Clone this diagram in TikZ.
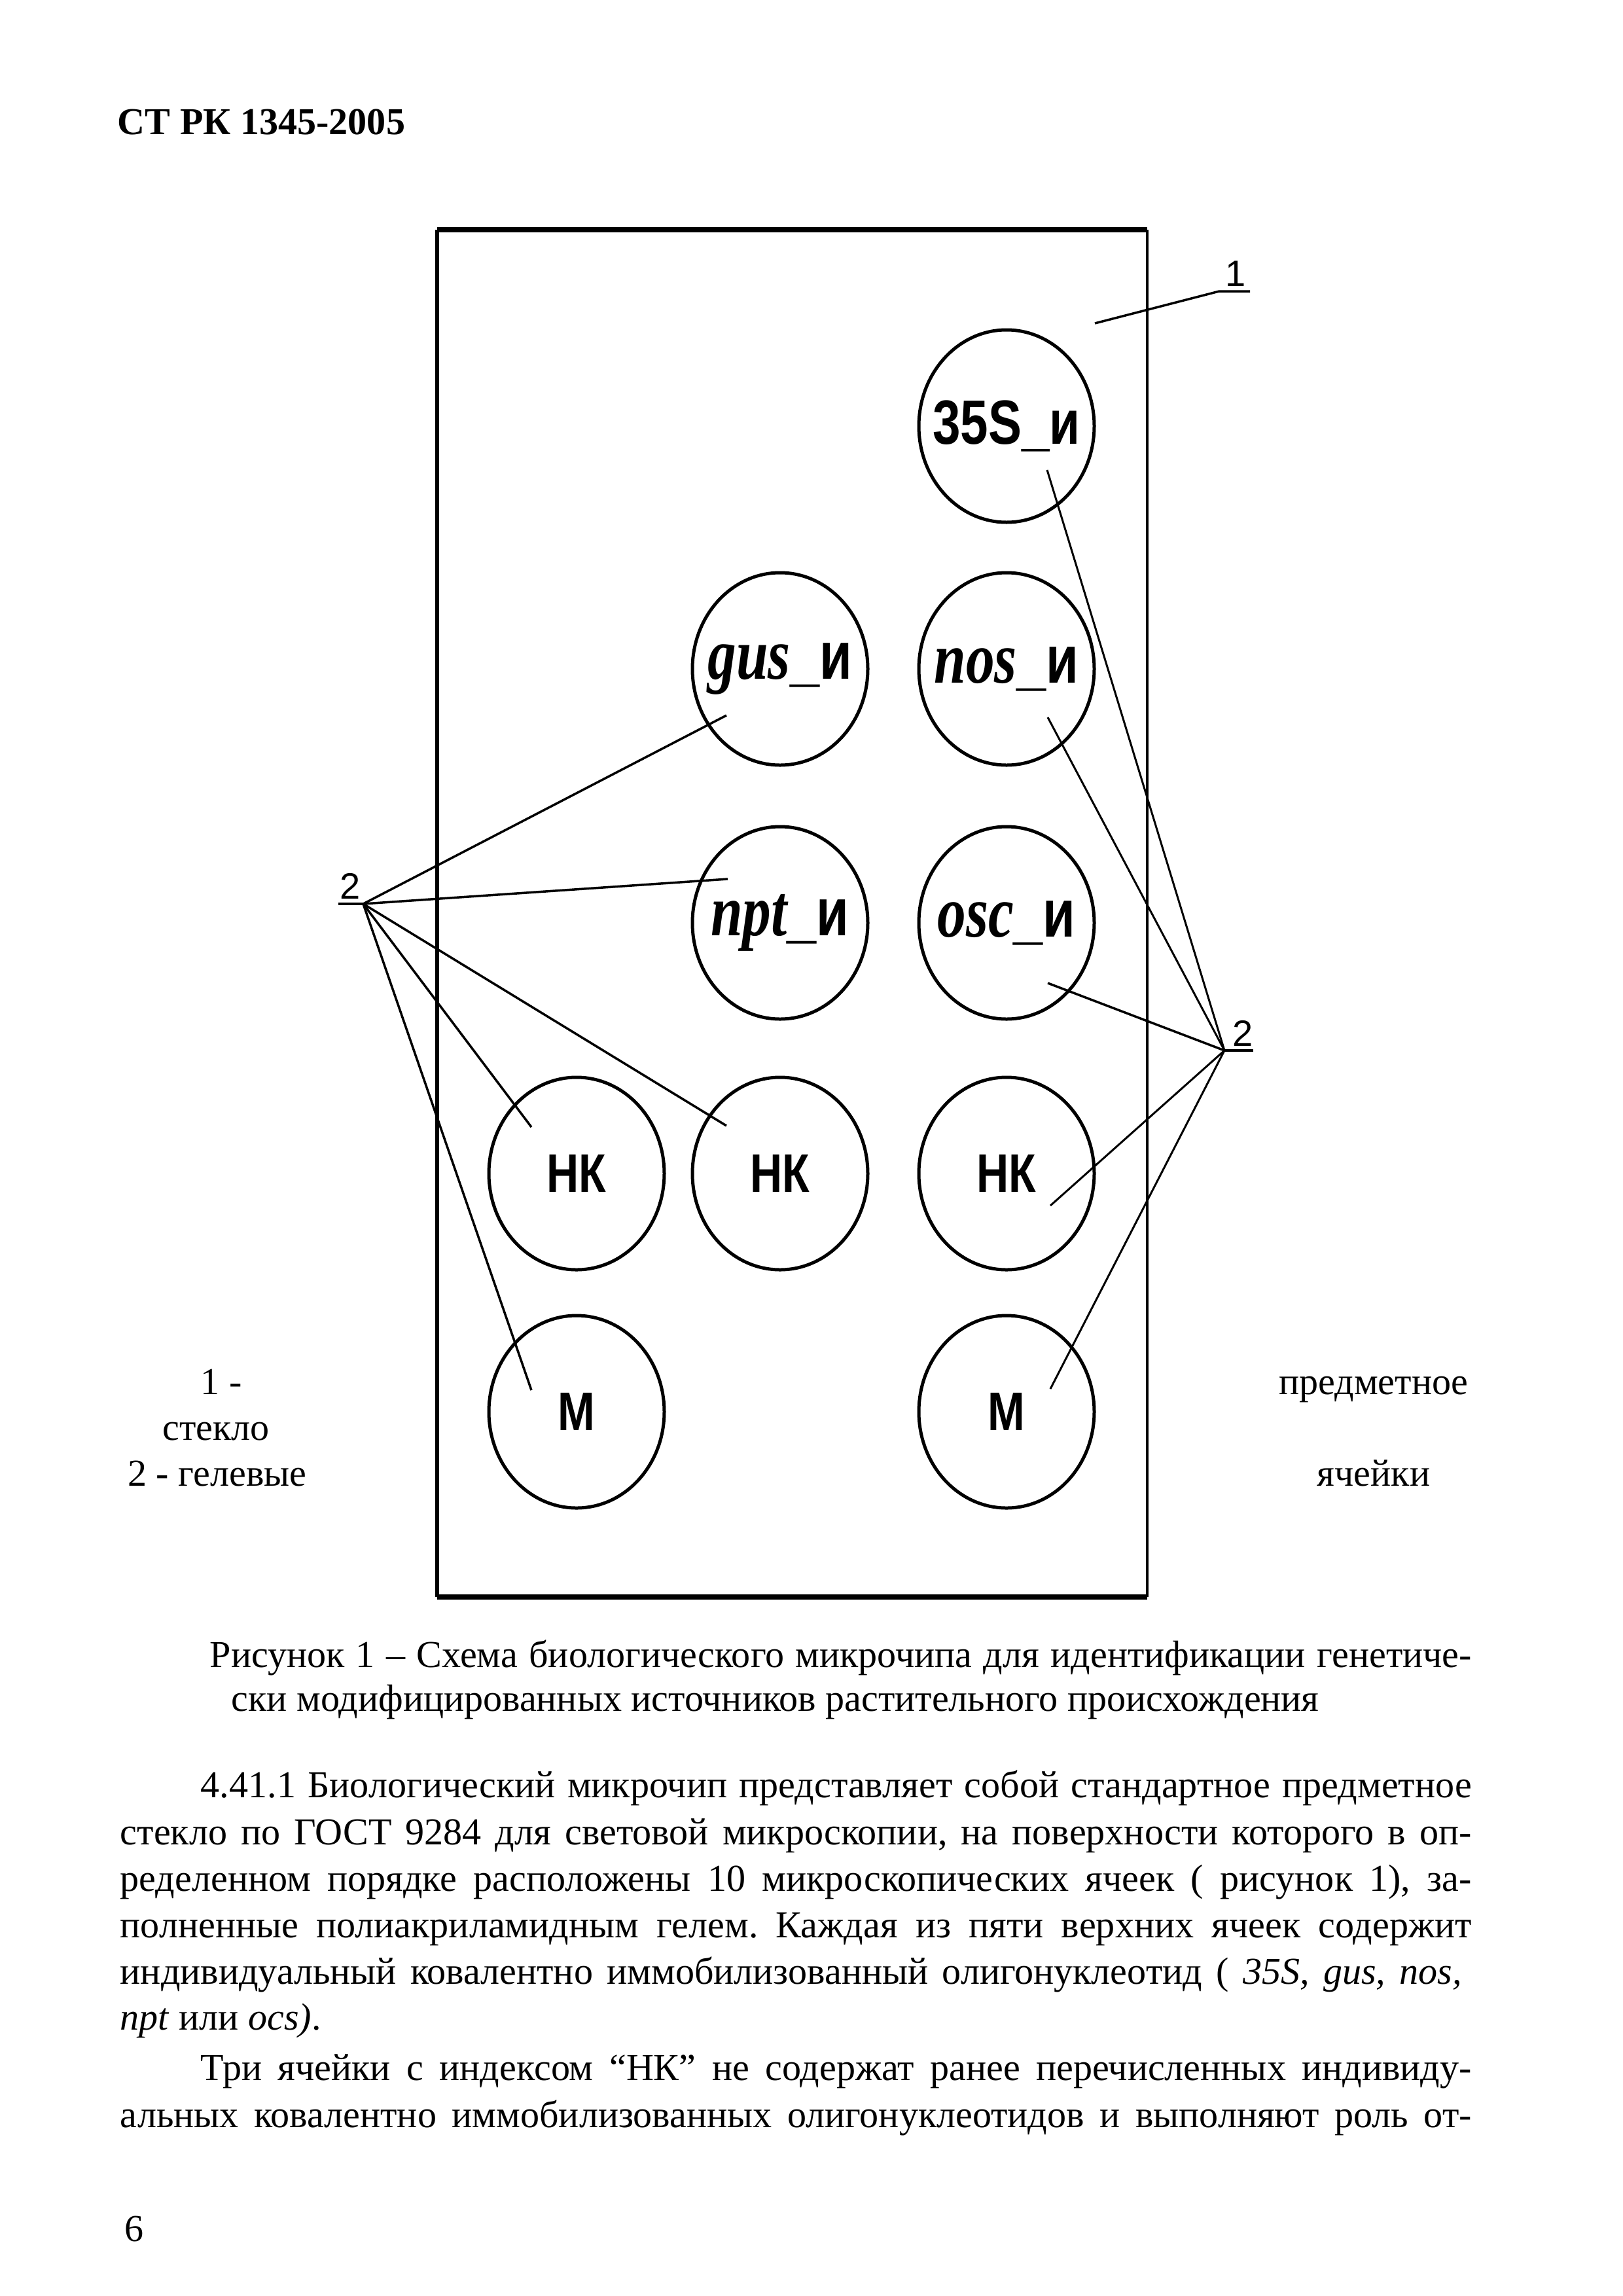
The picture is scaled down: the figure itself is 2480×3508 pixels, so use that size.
\documentclass[tikz,border=0pt]{standalone}
\usepackage{fontspec}
\setmainfont{Liberation Serif}
\newfontfamily\arialf{Liberation Sans}
\usepackage{graphicx}
\usetikzlibrary{shapes.geometric}
\frenchspacing
\newlength{\pxl}
\setlength{\pxl}{0.084667mm}
\newcommand{\sanslab}[1]{\makebox[0pt][c]{\scalebox{0.8}[1]{\arialf\bfseries\fontsize{23pt}{23pt}\selectfont #1}}}
\newcommand{\genelab}[1]{\makebox[0pt][c]{\scalebox{0.78}[1]{\bfseries\itshape\fontsize{27pt}{27pt}\selectfont #1{\arialf\upshape\fontsize{25pt}{25pt}\selectfont\_и}}}}
\newcommand{\ctrllab}[1]{\makebox[0pt][c]{\scalebox{0.82}[1]{\arialf\bfseries\fontsize{20pt}{20pt}\selectfont #1}}}
\begin{document}
\begin{tikzpicture}[x=0.084667mm, y=-0.084667mm,
  cellnode/.style={ellipse, draw, line width=5\pxl, minimum width=268\pxl, minimum height=294\pxl, inner sep=0pt},
  leadline/.style={line width=3.5\pxl},
  leadthin/.style={line width=3\pxl},
  bodytext/.style={inner sep=0pt, anchor=base west, font=\fontsize{14pt}{17pt}\selectfont},
  ctrtext/.style={inner sep=0pt, anchor=base, font=\fontsize{14pt}{17pt}\selectfont},
  numlabel/.style={inner sep=0pt, anchor=base, font=\arialf\fontsize{13.5pt}{14pt}\selectfont},
]
\useasboundingbox (0,0) rectangle (2480,3508);
\fill[white] (0,0) rectangle (2480,3508);

% header
\node[bodytext] (hdr) at (179,205) {\bfseries СТ РК 1345-2005};

% slide
\coordinate (sTL) at (668,351);
\coordinate (sTR) at (1753,351);
\coordinate (sBL) at (668,2440);
\coordinate (sBR) at (1753,2440);
\draw[line width=8\pxl] (sTL) -- (sTR);
\draw[line width=8\pxl] (sBL) -- (sBR);
\draw[line width=6\pxl] (sTL) -- (sBL);
\draw[line width=4\pxl] (sTR) -- (sBR);

% cells
\node[cellnode] (c35) at (1538,651) {\sanslab{35S\_и}};
\node[cellnode] (cgus) at (1192,1022) {\genelab{gus}};
\node[cellnode] (cnos) at (1538,1022) {\genelab{nos}};
\node[cellnode] (cnpt) at (1192,1410) {\genelab{npt}};
\node[cellnode] (cosc) at (1538,1410) {\genelab{osc}};
\node[cellnode] (nk1) at (881,1793) {\ctrllab{НК}};
\node[cellnode] (nk2) at (1192,1793) {\ctrllab{НК}};
\node[cellnode] (nk3) at (1538,1793) {\ctrllab{НК}};
\node[cellnode] (m1) at (881,2157) {\ctrllab{М}};
\node[cellnode] (m2) at (1538,2157) {\ctrllab{М}};

% label 1
\node[numlabel] (lab1) at (1888,437) {1};
\coordinate (u1a) at (1910,445);
\coordinate (u1b) at (1863,445);
\coordinate (e1) at (1673,494);
\draw[leadline] (u1a) -- (u1b) -- (e1);

% left label 2
\node[numlabel] (lab2L) at (535,1373) {2};
\coordinate (u2L) at (517,1381);
\coordinate (p2L) at (555,1381);
\coordinate (egus) at (1110,1093);
\coordinate (enpt) at (1112,1343);
\coordinate (enk1) at (812,1722);
\coordinate (enk2) at (1110,1720);
\coordinate (em1) at (812,2124);
\draw[leadline] (u2L) -- (p2L);
\draw[leadline] (p2L) -- (egus);
\draw[leadline] (p2L) -- (enpt);
\draw[leadline] (p2L) -- (enk1);
\draw[leadline] (p2L) -- (enk2);
\draw[leadline] (p2L) -- (em1);

% right label 2
\node[numlabel] (lab2R) at (1899,1598) {2};
\coordinate (p2R) at (1871,1605);
\coordinate (u2R) at (1915,1605);
\coordinate (e35) at (1600,718);
\coordinate (enos) at (1601,1096);
\coordinate (eosc) at (1601,1502);
\coordinate (enk3) at (1605,1842);
\coordinate (em2) at (1605,2122);
\draw[leadline] (u2R) -- (p2R);
\draw[leadthin] (p2R) -- (e35);
\draw[leadthin] (p2R) -- (enos);
\draw[leadline] (p2R) -- (eosc);
\draw[leadthin] (p2R) -- (enk3);
\draw[leadthin] (p2R) -- (em2);

% legend
\node[ctrtext] (lg1) at (338,2130) {1 -};
\node[ctrtext] (lg2) at (330,2200) {стекло};
\node[ctrtext] (lg3) at (332,2270) {2 - гелевые};
\node[ctrtext] (lg4) at (2099,2130) {предметное};
\node[ctrtext] (lg5) at (2099,2270) {ячейки};

% caption
\node[bodytext] (cap1) at (320,2547) {\makebox[1928\pxl][s]{Рисунок 1 – Схема биологического микрочипа для идентификации генетиче-}};
\node[bodytext] (cap2) at (353,2614) {ски модифицированных источников растительного происхождения};

% body text
\node[bodytext] (b1) at (306,2746) {\makebox[1942\pxl][s]{4.41.1 Биологический микрочип представляет собой стандартное предметное}};
\node[bodytext] (b2) at (183,2818) {\makebox[2065\pxl][s]{стекло по ГОСТ 9284 для световой микроскопии, на поверхности которого в оп-}};
\node[bodytext] (b3) at (183,2889) {\makebox[2065\pxl][s]{ределенном порядке расположены 10 микроскопических ячеек ( рисунок 1), за-}};
\node[bodytext] (b4) at (183,2960) {\makebox[2065\pxl][s]{полненные полиакриламидным гелем. Каждая из пяти верхних ячеек содержит}};
\node[bodytext] (b5) at (183,3031) {\makebox[2050\pxl][s]{индивидуальный ковалентно иммобилизованный олигонуклеотид ( \textit{35S, gus, nos,}}};
\node[bodytext] (b6) at (183,3101) {\textit{npt} или \textit{ocs)}.};
\node[bodytext] (b7) at (306,3178) {\makebox[1942\pxl][s]{Три ячейки с индексом “НК” не содержат ранее перечисленных индивиду-}};
\node[bodytext] (b8) at (183,3250) {\makebox[2065\pxl][s]{альных ковалентно иммобилизованных олигонуклеотидов и выполняют роль от-}};

% page number
\node[bodytext] (pg) at (190,3424) {6};
\end{tikzpicture}
\end{document}
